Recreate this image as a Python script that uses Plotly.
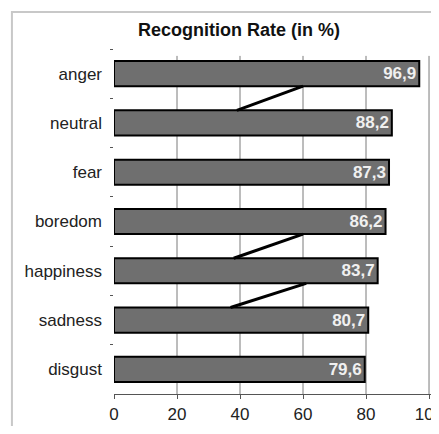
import plotly.graph_objects as go

categories = ["anger", "neutral", "fear", "boredom", "happiness", "sadness", "disgust"]
values = [96.9, 88.2, 87.3, 86.2, 83.7, 80.7, 79.6]
value_labels = ["96,9", "88,2", "87,3", "86,2", "83,7", "80,7", "79,6"]
x_ticks = [0, 20, 40, 60, 80, 100]
title_text = "Recognition Rate (in %)"

# stray connector segments visible in the original (from, to category index, x from/to)
connectors = [(0, 1, 60, 39), (3, 4, 60, 38), (4, 5, 61, 37)]

fig = go.Figure()
fig.add_trace(go.Bar(
    y=categories, x=values, orientation="h",
    marker=dict(color="#6f6f6f", line=dict(color="#000000", width=2)),
    text=value_labels, textposition="inside", insidetextanchor="end",
    textfont=dict(color="#f0f0f0", size=17, family="Arial, Liberation Sans", weight="bold"),
    cliponaxis=False, width=0.51,
))

# vertical gridlines at the tick values (drawn below the bars)
for v in x_ticks[1:]:
    fig.add_shape(type="line", xref="x", yref="paper", x0=v, x1=v, y0=0, y1=0.98,
                  line=dict(color="#7a7a7a", width=1), layer="below")

half = 0.255
for a, b, xa, xb in connectors:
    fig.add_shape(type="line", xref="x", yref="y",
                  x0=xa, y0=a + half, x1=xb, y1=b - half,
                  line=dict(color="black", width=3))

# outer frame
fig.add_shape(type="rect", xref="paper", yref="paper",
              x0=-0.322, y0=-0.2, x1=1.1, y1=1.107,
              line=dict(color="#c8c8c8", width=2), fillcolor="rgba(0,0,0,0)", layer="below")

# page body has an 8px margin: the figure is sized so that no scrollbars appear
fig.update_layout(
    width=423, height=418,
    margin=dict(l=106, r=0, t=41, b=32, autoexpand=False),
    paper_bgcolor="white", plot_bgcolor="white",
    showlegend=False,
    uniformtext=dict(minsize=14, mode="show"),
    title=dict(text="<b>" + title_text + "</b>", x=231 / 423, xref="container", xanchor="center",
               y=1 - 22 / 418, yref="container", yanchor="middle",
               font=dict(size=18, color="#111111", family="Arial, Liberation Sans")),
    font=dict(family="Arial, Liberation Sans", color="#222222"),
)
fig.update_xaxes(range=[0, 100.63], tickvals=x_ticks, showgrid=False,
                 zeroline=False, showline=True, linecolor="#555555", linewidth=1,
                 ticks="outside", ticklen=4, tickcolor="#555555", automargin=False,
                 ticklabelstandoff=1, ticklabeloverflow="allow",
                 tickfont=dict(size=17, color="#222222"), fixedrange=True)
fig.update_yaxes(autorange="reversed", showgrid=False, showline=False, ticks="outside",
                 tickson="boundaries", ticklen=3, tickcolor="#555555", automargin=False,
                 tickfont=dict(size=17, color="#222222"), ticklabelstandoff=11)

fig.write_html("out.html")
